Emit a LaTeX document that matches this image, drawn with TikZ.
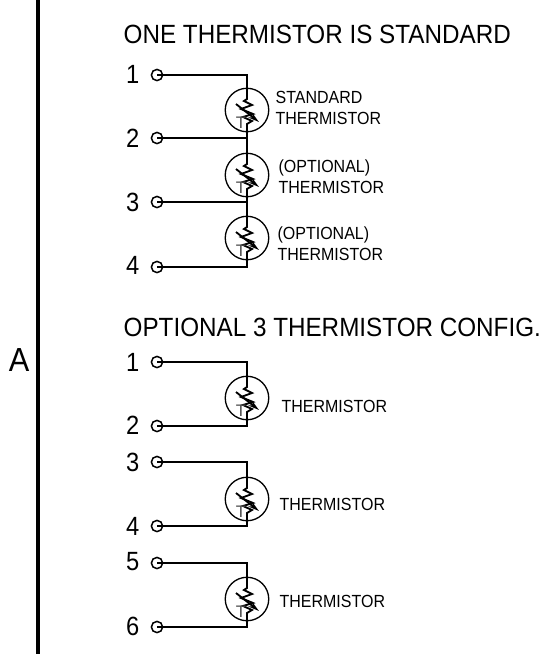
\documentclass[tikz,border=0pt]{standalone}
\usepackage{fontspec}
\setmainfont{Liberation Sans}
\usetikzlibrary{arrows.meta}
\tikzset{
  term/.style={shape=circle, draw=black, line width=0.85pt, minimum size=6.4pt, inner sep=0pt},
  therm/.style={shape=circle, draw=black, line width=0.75pt, minimum size=0.87cm, inner sep=0pt},
  wire/.style={line width=1.05pt, draw=black},
  num/.style={font=\fontsize{15}{16}\selectfont, xscale=0.9, anchor=east},
  title/.style={font=\fontsize{15}{16}\selectfont, xscale=0.92, anchor=west},
  small/.style={font=\fontsize{10}{11.8}\selectfont, xscale=0.91, align=left, anchor=west},
  pics/zig/.style={code={
    \draw[wire, line join=miter] (0,-22) -- (0,-11) -- (-3,-9) -- (5,-5) -- (-6,-1) -- (6,4) -- (-4,7) -- (5,11) -- (0,14) -- (0,22);
    \draw[line width=1.05pt, -{Stealth[length=6.5pt,width=3.5pt]}] (-11,-6) -- (12,12);
    \node[font=\fontsize{9.5}{10}\selectfont, text=black!70] at (-6,13) {T};
  }}
}
\begin{document}
\begin{tikzpicture}[x=0.02cm, y=-0.02cm]
\useasboundingbox (0,0) rectangle (549,654);
\node[font=\fontsize{19}{20}\selectfont, xscale=0.92] (A) at (19,360) {A};
\coordinate (L1) at (38,0);
\coordinate (L2) at (38,654);
\draw[line width=2.2pt] (L1) -- (L2);
\node[title] (T1) at (118,34) {ONE THERMISTOR IS STANDARD};
\node[title] (T2) at (118,327) {OPTIONAL 3 THERMISTOR CONFIG.};
% upper group
\node[term] (a1) at (157,75) {};
\node[term] (a2) at (157,138) {};
\node[term] (a3) at (157,202) {};
\node[term] (a4) at (157,267) {};
\node[num] (na1) at (145,74) {1};
\node[num] (na2) at (145,138) {2};
\node[num] (na3) at (145,202) {3};
\node[num] (na4) at (145,265) {4};
\node[therm] (r1) at (247,110) {};
\node[therm] (r2) at (247,175) {};
\node[therm] (r3) at (247,238) {};
\pic at (r1) {zig};
\pic at (r2) {zig};
\pic at (r3) {zig};
\node[small] (l1) at (270,108) {STANDARD\\THERMISTOR};
\node[small] (l2) at (273,177) {(OPTIONAL)\\THERMISTOR};
\node[small] (l3) at (272,244) {(OPTIONAL)\\THERMISTOR};
\path [wire] (a1.center) -| (r1.north);
\path [wire] (a2.center) -| (r1.south);
\path [wire] (r1.south) -- (r2.north);
\path [wire] (a3.center) -| (r2.south);
\path [wire] (r2.south) -- (r3.north);
\path [wire] (a4.center) -| (r3.south);
% lower group
\node[term] (b1) at (157,362) {};
\node[term] (b2) at (157,426) {};
\node[term] (b3) at (157,462) {};
\node[term] (b4) at (157,526) {};
\node[term] (b5) at (157,563) {};
\node[term] (b6) at (157,627) {};
\node[num] (nb1) at (145,362) {1};
\node[num] (nb2) at (145,425) {2};
\node[num] (nb3) at (145,462) {3};
\node[num] (nb4) at (145,526) {4};
\node[num] (nb5) at (145,562) {5};
\node[num] (nb6) at (145,626) {6};
\node[therm] (s1) at (247,398) {};
\node[therm] (s2) at (247,499) {};
\node[therm] (s3) at (247,599) {};
\pic at (s1) {zig};
\pic at (s2) {zig};
\pic at (s3) {zig};
\node[small] (m1) at (276,406) {THERMISTOR};
\node[small] (m2) at (274,504) {THERMISTOR};
\node[small] (m3) at (274,601) {THERMISTOR};
\path [wire] (b1.center) -| (s1.north);
\path [wire] (b2.center) -| (s1.south);
\path [wire] (b3.center) -| (s2.north);
\path [wire] (b4.center) -| (s2.south);
\path [wire] (b5.center) -| (s3.north);
\path [wire] (b6.center) -| (s3.south);
\end{tikzpicture}
\end{document}
